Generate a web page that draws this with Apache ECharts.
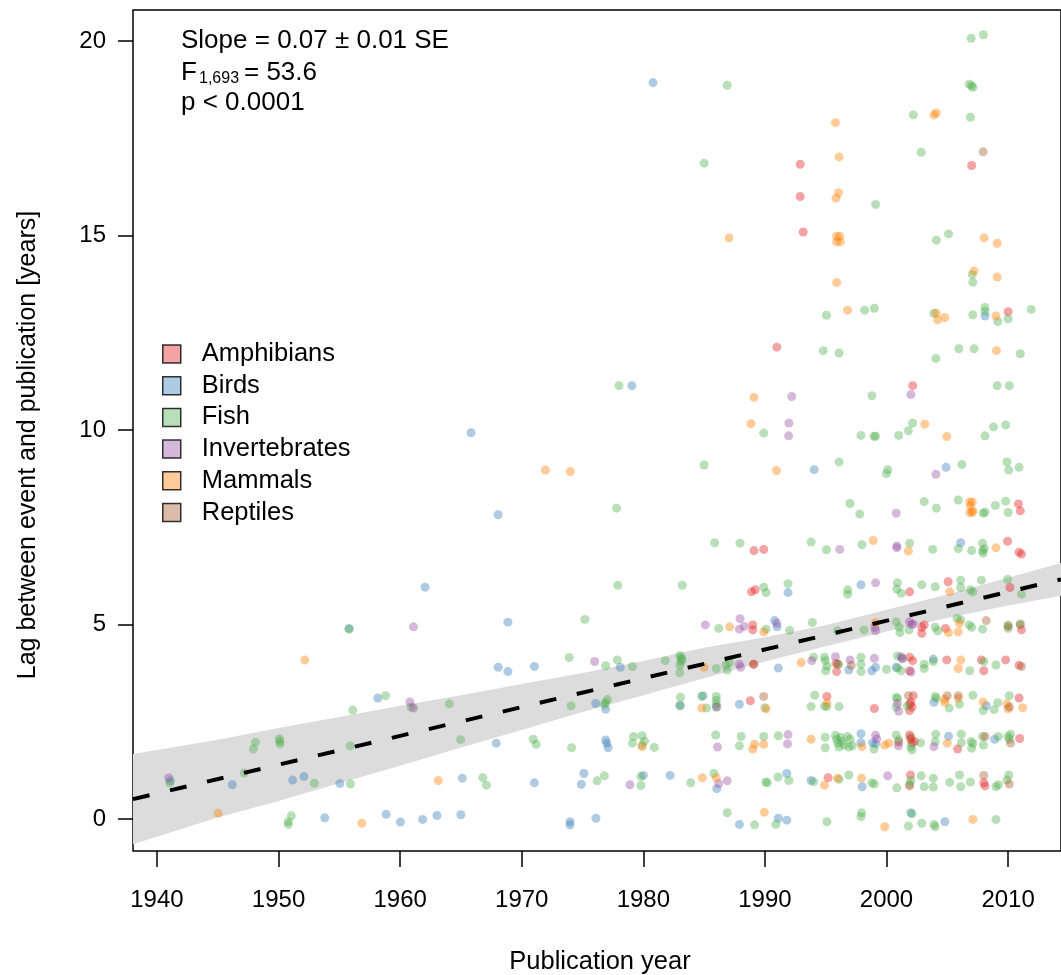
<!DOCTYPE html>
<html><head><meta charset="utf-8">
<style>html,body{margin:0;padding:0;background:#fff}#c{width:1061px;height:975px}</style>
<script src="https://cdn.jsdelivr.net/npm/echarts@6/dist/echarts.min.js"></script>
</head><body><div id="c"></div>
<script>
// ---- data: [publication year, lag in years] ----
const amphibians = [[1989.1,6.90],[1989.9,6.93],[1988.9,5.84],[1989.2,5.89],[1989.0,4.99],[1989.0,4.86],[1989.07,3.98],[1988.8,3.04],
[2009.96,7.14],[2010.9,6.86],[2011.1,6.81],[2001.9,5.84],[2005.07,6.10],[2010.15,5.95],[2002.9,4.93],[2003.1,4.99],[2002.9,4.77],[2004.85,4.90],[2011.1,4.86],
[1995.85,4.0],[1996.0,3.98],[1995.9,3.79],[2001.9,4.16],[2002.15,4.07],[2001.9,3.81],[2004.96,4.09],[2007.8,4.09],[2008.0,3.81],[2009.8,4.09],[2010.9,3.95],
[1995.1,3.15],[1999.0,2.84],[2002.2,3.17],[2002.0,3.0],[2001.9,2.95],[2001.9,2.79],[2002.1,2.88],[2010.9,3.11],[2001.0,1.98],[2001.9,2.16],[2002.0,2.05],
[2002.1,1.95],[2002.3,1.99],[2005.85,1.80],[2010.95,2.07],[1995.2,1.06],[2001.97,1.13],[2001.9,0.85],[2008.0,0.93],[2008.1,0.85],
[1992.9,16.83],[1992.9,16.0],[1993.15,15.09],[1990.98,12.13],[2007.0,16.80],[2002.15,11.14],[2010.0,13.04],[2010.85,8.10],[2011.0,7.92]];
const birds = [[1962.05,5.96],[1968.86,5.06],[1955.8,4.9],[1968.06,3.90],[1968.86,3.79],[1971.04,3.92],[1958.16,3.11],[1967.9,1.95],[1941.1,0.98],[1946.2,0.88],
[1951.16,1.00],[1952.09,1.09],[1955.04,0.91],[1965.11,1.05],[1971.04,0.93],[1953.8,0.03],[1958.85,0.12],[1960.02,-0.08],[1961.85,-0.01],[1963.03,0.09],[1964.99,0.11],
[1965.83,9.93],[1968.06,7.82],
[1991.9,5.82],[1990.8,5.10],[1991.0,4.94],[1978.1,3.90],[1991.1,3.88],[1976.08,2.97],[1976.9,2.82],[1983.0,2.92],[1984.9,3.17],[1987.9,2.95],[1976.9,2.03],
[1977.0,1.95],[1977.1,1.83],[1975.12,1.17],[1974.9,0.89],[1980.0,1.12],[1982.2,1.12],[1986.04,0.78],[1991.8,1.17],[1973.97,-0.07],[1973.97,-0.15],[1976.1,0.02],
[1987.9,-0.14],[1991.1,0.02],[1991.8,-0.03],
[2006.1,7.10],[1997.9,6.02],[1996.9,3.83],[1998.8,3.81],[1999.1,3.90],[2000.8,3.90],[2003.85,4.11],[2003.9,3.0],[2008.2,2.91],[1997.9,2.19],[1997.9,1.96],
[1998.85,1.96],[1999.1,1.93],[2005.1,2.13],[2008.9,2.05],[1993.8,0.99],[1998.0,0.83],[2002.0,0.16],[2004.8,-0.07],
[1980.8,18.93],[1979.06,11.14],[2008.1,12.93],[1994.05,8.98],[2004.9,9.04]];
const fish = [[1955.8,4.88],[1958.8,3.17],[1960.9,2.88],[1956.1,2.80],[1964.04,2.96],[1964.97,2.04],[1970.94,2.05],[1971.18,1.92],[1948.1,1.97],[1947.93,1.80],
[1950.07,2.06],[1950.12,1.93],[1950.1,2.0],[1955.9,1.88],[1947.17,1.18],[1941.04,0.93],[1952.94,0.92],[1955.92,0.90],[1966.8,1.06],[1967.1,0.87],[1951.05,0.08],
[1950.8,-0.07],[1950.8,-0.14],
[1986.9,18.86],[1985.0,16.86],[1978.0,11.14],[1989.9,9.92],[1985.0,9.10],[1977.8,7.99],
[1985.87,7.10],[1987.95,7.09],[1977.9,6.01],[1983.2,6.01],[1989.9,5.96],[1990.1,5.82],[1991.9,6.05],[1975.2,5.13],[1986.2,4.90],[1990.1,4.88],[1992.03,4.85],
[1973.9,4.15],[1976.9,3.94],[1977.86,4.09],[1979.1,3.92],[1981.8,4.07],[1983.0,4.2],[1983.1,4.15],[1983.2,4.1],[1983.1,4.05],[1983.0,3.95],[1983.0,3.76],
[1986.0,3.87],[1986.8,3.96],[1987.1,4.02],[1986.9,3.83],[1974.06,2.91],[1977.05,3.07],[1976.9,3.0],[1976.8,2.94],[1983.05,3.13],[1983.05,2.91],[1984.8,3.15],
[1985.2,2.85],[1986.0,3.15],[1986.0,3.05],[1986.0,2.95],[1986.05,2.88],[1990.0,2.86],[1974.1,1.83],[1979.2,2.12],[1979.9,2.14],[1979.1,1.95],[1980.1,2.0],
[1980.9,1.84],[1979.9,1.9],[1985.95,2.16],[1988.05,2.12],[1987.9,1.88],[1989.9,2.12],[1991.1,2.14],[1976.2,0.98],[1976.8,1.11],[1979.8,1.09],[1979.8,0.86],
[1983.9,0.93],[1985.8,1.17],[1990.07,0.95],[1990.2,0.93],[1991.07,1.08],[1991.97,0.99],[1986.9,0.16],[1989.15,-0.15],[1990.9,-0.14],
[1993.8,7.12],[1995.06,6.92],[1997.98,7.05],[2001.9,7.09],[2003.8,6.93],[2005.9,6.95],[2007.0,6.90],[2007.9,7.09],[2007.9,6.90],[2007.95,6.83],[2008.05,6.95],
[1996.8,5.89],[1996.8,5.78],[2000.9,6.07],[2000.84,5.91],[2001.2,5.80],[2002.9,6.02],[2004.0,5.97],[2006.1,6.14],[2006.1,5.95],[2006.9,5.89],[2007.1,5.84],
[2007.8,6.14],[2009.96,6.16],[2011.1,5.78],[1993.9,5.05],[1995.97,4.84],[1998.15,4.86],[2000.8,5.07],[2001.1,4.79],[2001.05,4.93],[2001.85,4.86],[2004.0,4.93],
[2004.2,4.84],[2005.8,5.16],[2006.1,5.12],[2006.8,4.99],[2007.0,4.93],[2007.9,4.88],[2010.0,4.99],[2010.0,4.90],[2011.0,5.02],[1994.0,4.16],[1994.9,4.16],
[1994.96,4.07],[1995.0,3.81],[1995.1,3.93],[1996.05,3.98],[1997.9,4.16],[1997.9,3.98],[1997.9,3.79],[2000.0,3.85],[2000.9,4.19],[2001.3,4.13],[2000.9,3.88],
[2001.2,3.81],[2003.1,3.98],[2003.1,3.87],[2003.85,4.05],[2006.85,3.81],[2008.0,4.05],[2009.0,3.96],[1994.1,3.18],[1993.8,2.89],[1995.1,2.89],[1994.9,2.90],
[1996.1,2.89],[2000.8,3.13],[2000.9,3.10],[2000.8,2.88],[2001.7,2.90],[2004.0,3.15],[2004.1,3.10],[2005.15,2.85],[2006.0,2.95],[2007.1,3.18],[2007.95,2.79],
[2008.85,2.81],[2009.15,2.99],[2010.1,3.17],[1994.96,2.10],[1994.96,1.83],[1995.8,2.15],[1995.9,2.05],[1996.0,1.95],[1996.1,1.85],[1996.2,2.1],[1996.3,2.0],
[1996.5,1.9],[1996.8,2.12],[1997.0,2.05],[1997.2,1.88],[1996.9,1.85],[1998.97,1.80],[2000.8,2.16],[2001.0,2.03],[2002.0,1.85],[2002.1,1.78],[2002.8,1.96],
[2004.05,2.18],[2004.0,1.99],[2006.15,2.18],[2006.15,1.96],[2006.96,1.99],[2007.1,1.94],[2007.0,1.82],[2007.9,2.12],[2007.97,1.90],[2009.2,2.12],[2010.0,2.12],
[2010.2,2.18],[2010.1,2.05],[1994.0,0.96],[1996.1,1.02],[1996.9,1.13],[1998.8,0.93],[1999.0,0.90],[2000.85,0.80],[2002.0,0.99],[2001.9,0.90],[2002.85,1.11],
[2003.1,0.83],[2003.85,1.05],[2003.85,0.82],[2005.2,0.94],[2006.0,1.13],[2006.1,0.83],[2006.9,0.95],[2009.0,0.83],[2009.2,0.88],[2009.9,1.0],[2010.05,1.13],
[1995.1,-0.07],[1997.95,0.16],[1997.9,0.06],[2002.1,0.13],[2001.8,-0.18],[2002.9,-0.11],[2003.9,-0.14],[2004.0,-0.2],[2009.0,-0.01],
[2006.96,20.07],[2007.97,20.16],[2006.8,18.89],[2007.0,18.85],[2007.1,18.81],[2002.2,18.10],[2006.9,18.04],[2002.85,17.14],[1999.1,15.80],[2004.1,14.88],
[2005.1,15.04],[2007.06,14.0],[2007.1,13.80],[1995.06,12.95],[1998.2,13.08],[1999.0,13.13],[2003.9,13.0],[2007.1,12.96],[2008.1,13.15],[2008.1,13.05],
[2009.15,12.79],[2010.0,12.86],[2011.9,13.10],[1994.8,12.04],[1996.1,11.98],[2004.06,11.84],[2005.95,12.09],[2007.2,12.09],[2011.0,11.96],[2009.1,11.14],
[2010.1,11.14],[1998.8,10.88],[1997.9,9.86],[1998.97,9.84],[1999.1,9.84],[2001.0,9.86],[2001.8,9.98],[2002.15,10.18],[2008.1,9.85],[2008.8,10.08],[2009.8,10.13],
[1996.1,9.18],[2000.0,8.88],[2000.1,8.98],[2006.2,9.11],[2009.9,9.18],[2010.05,8.97],[2010.9,9.04],[1997.0,8.11],[1997.8,7.84],[2003.1,8.16],[2004.1,7.99],
[2005.9,8.20],[2007.95,7.86],[2008.1,7.89],[2008.95,8.06],[2009.8,8.17],[2010.0,7.88]];
const invertebrates = [[1961.1,4.94],[1960.8,3.01],[1961.1,2.85],[1940.96,1.06],
[1985.1,4.99],[1987.95,5.15],[1987.9,4.88],[1988.3,4.95],[1990.98,5.03],[1976.0,4.05],[1987.9,3.98],[1988.0,3.90],[1986.0,2.88],[1986.1,1.85],[1991.9,2.17],
[1991.86,1.93],[1978.9,0.88],[1986.2,0.91],[1986.9,0.98],
[1996.15,6.93],[2000.85,7.02],[2000.85,6.97],[1999.1,6.07],[1999.03,4.93],[1999.1,4.84],[2001.9,5.07],[2002.06,5.0],[2002.2,5.01],[1993.85,4.07],[1995.8,4.17],
[1997.0,4.09],[1999.0,4.13],[2001.2,4.17],[2001.3,4.12],[2002.0,3.78],[2000.9,2.97],[2001.0,2.77],[1999.1,2.15],[1999.2,2.06],[2000.97,1.88],[2003.9,1.86],[2000.1,1.11],
[1992.2,10.86],[1991.97,10.18],[1991.95,9.85],[2002.0,10.91],[2004.06,8.86],[2000.8,7.86]];
const mammals = [[1952.15,4.09],[1963.14,0.99],[1945.03,0.15],[1956.85,-0.11],[1971.95,8.97],[1974.0,8.93],
[1987.1,4.94],[1989.9,4.81],[1985.0,3.90],[1984.8,2.85],[1990.1,2.83],[1979.9,1.86],[1989.15,1.92],[1989.0,1.80],[1989.9,1.92],[1984.85,1.06],[1986.0,1.06],[1989.95,0.17],
[1998.9,7.16],[2001.8,6.89],[2009.0,6.97],[2005.2,5.84],[1999.1,5.05],[2005.1,4.79],[2005.9,4.81],[2006.0,5.03],[1992.98,4.02],[2006.1,4.09],[2005.9,3.87],
[1995.1,2.98],[2004.8,3.08],[2004.8,3.0],[2005.9,3.1],[2007.95,3.01],[2009.9,2.96],[2010.0,2.83],[2011.2,2.86],[1993.8,2.05],[1997.98,1.86],[1999.85,1.90],
[2000.2,1.95],[2005.0,1.95],[1994.9,0.87],[1995.97,1.05],[1997.95,1.05],[1999.85,-0.2],[2007.1,-0.01],
[1987.05,14.94],[1989.1,10.84],[1988.85,10.16],[1990.95,8.96],[2003.9,18.10],[2004.1,18.15],[1995.8,17.90],[1996.1,17.02],[1996.06,16.1],[1995.85,15.96],
[1995.9,14.98],[1996.15,14.98],[1995.9,14.84],[1996.2,14.84],[2008.03,14.94],[2009.1,14.80],[1995.9,13.79],[2007.2,14.09],[2009.1,13.93],[1996.8,13.08],
[2004.1,13.0],[2004.2,12.83],[2004.8,12.89],[2009.0,12.93],[2009.04,12.04],[2003.15,10.15],[2004.96,9.83],[2006.85,8.15],[2007.05,8.15],[2006.9,8.05],
[2006.85,7.88],[2007.05,7.88],[2007.1,7.92]];
const reptiles = [[1989.07,3.98],[1989.9,3.15],[2008.2,5.10],[2010.0,4.95],[2011.0,4.99],[1997.1,3.95],[2011.1,3.92],[2001.8,3.17],[2005.0,3.17],[2005.9,3.17],
[2010.1,2.88],[2002.0,2.1],[2008.1,2.12],[2010.2,1.95],[2008.0,1.12],[2010.1,0.9],[2007.95,17.15]];

const groupNames = ['Amphibians','Birds','Fish','Invertebrates','Mammals','Reptiles'];
const groupData = [amphibians, birds, fish, invertebrates, mammals, reptiles];
const groupColors = ['rgba(228,26,28,0.5)','rgba(55,126,184,0.5)','rgba(77,175,74,0.5)','rgba(152,78,163,0.5)','rgba(255,127,0,0.5)','rgba(166,86,40,0.5)'];

// fitted regression line and confidence band
const fitYears = [1938.03, 2014.35];
const fitLag = [0.51, 6.16];
const bandYears = [1938.03, 1945, 1950, 1955, 1960, 1965, 1970, 1975, 1980, 1985, 1990, 1995, 2000, 2005, 2010, 2014.35];
const bandLow  = [-0.65, 0.04, 0.46, 0.92, 1.37, 1.84, 2.29, 2.75, 3.18, 3.62, 4.05, 4.44, 4.82, 5.17, 5.49, 5.74];
const bandHigh = [1.67, 2.04, 2.34, 2.62, 2.91, 3.18, 3.47, 3.75, 4.06, 4.40, 4.67, 4.98, 5.38, 5.77, 6.20, 6.58];

const xTicks = [1940, 1950, 1960, 1970, 1980, 1990, 2000, 2010];
const yTicks = [0, 5, 10, 15, 20];

const FONT = '"Liberation Sans", Arial, Helvetica, sans-serif';
const chart = echarts.init(document.getElementById('c'), null, {renderer: 'canvas'});

const series = [];
series.push({
  type: 'custom', name: 'band', silent: true, z: 1, clip: true,
  data: [[bandYears[0], bandLow[0]]],
  renderItem: function (params, api) {
    const pts = [];
    for (let i = 0; i < bandYears.length; i++) pts.push(api.coord([bandYears[i], bandHigh[i]]));
    for (let i = bandYears.length - 1; i >= 0; i--) pts.push(api.coord([bandYears[i], bandLow[i]]));
    return {type: 'polygon', shape: {points: pts}, style: {fill: '#dcdcdc'}};
  }
});
groupNames.forEach((n, i) => {
  series.push({
    type: 'scatter', name: n, data: groupData[i], symbol: 'circle', symbolSize: 9, z: 3,
    itemStyle: {color: groupColors[i], borderWidth: 0},
    emphasis: {disabled: true}, silent: true
  });
});
series.push({
  type: 'line', name: 'fit', data: fitYears.map((x, i) => [x, fitLag[i]]), symbol: 'none', z: 5, silent: true,
  lineStyle: {color: '#000', width: 4, type: [17, 21], cap: 'butt'}
});

chart.setOption({
  animation: false,
  backgroundColor: '#fff',
  grid: {left: 133, top: 10, right: -2, bottom: 124, show: true, borderColor: '#000', borderWidth: 1.5, backgroundColor: 'transparent'},
  xAxis: {
    type: 'value', min: 1938.03, max: 2014.35, position: 'bottom',
    axisLine: {show: false, onZero: false}, splitLine: {show: false},
    axisTick: {show: true, inside: false, length: 16, customValues: xTicks, lineStyle: {color: '#000', width: 1.5}},
    axisLabel: {show: true, customValues: xTicks, margin: 37, fontSize: 24, color: '#000', fontFamily: FONT, formatter: v => String(v)}
  },
  yAxis: {
    type: 'value', min: -0.823, max: 20.797, position: 'left',
    axisLine: {show: false, onZero: false}, splitLine: {show: false},
    axisTick: {show: true, inside: false, length: 15, customValues: yTicks, lineStyle: {color: '#000', width: 1.5}},
    axisLabel: {show: true, customValues: yTicks, margin: 27, fontSize: 24, color: '#000', fontFamily: FONT, formatter: v => String(v)}
  },
  legend: {
    show: true, data: groupNames, orient: 'vertical', left: 157, top: 336,
    icon: 'rect', itemWidth: 18, itemHeight: 18, itemGap: 5.7,
    itemStyle: {borderColor: '#000', borderWidth: 1.5},
    textStyle: {fontSize: 25.5, lineHeight: 24, color: '#000', fontFamily: FONT, padding: [0, 0, 0, 16]},
    selectedMode: false
  },
  graphic: [
    {type: 'text', x: 181, y: 41, style: {text: 'Slope = 0.07 \u00b1 0.01 SE', fontSize: 26, fontFamily: FONT, fill: '#000', verticalAlign: 'middle'}},
    {type: 'text', x: 181, y: 73, style: {text: 'F', fontSize: 26, fontFamily: FONT, fill: '#000', verticalAlign: 'middle'}},
    {type: 'text', x: 199, y: 79, style: {text: '1,693', fontSize: 16, fontFamily: FONT, fill: '#000', verticalAlign: 'middle'}},
    {type: 'text', x: 244, y: 73, style: {text: '= 53.6', fontSize: 26, fontFamily: FONT, fill: '#000', verticalAlign: 'middle'}},
    {type: 'text', x: 181, y: 103, style: {text: 'p < 0.0001', fontSize: 26, fontFamily: FONT, fill: '#000', verticalAlign: 'middle'}},
    {type: 'text', x: 600, y: 962, style: {text: 'Publication year', fontSize: 25.5, fontFamily: FONT, fill: '#000', align: 'center', verticalAlign: 'middle'}},
    {type: 'text', x: 28, y: 445, rotation: Math.PI / 2, style: {text: 'Lag between event and publication [years]', fontSize: 25, fontFamily: FONT, fill: '#000', align: 'center', verticalAlign: 'middle'}}
  ],
  series: series
});
</script>
</body></html>
